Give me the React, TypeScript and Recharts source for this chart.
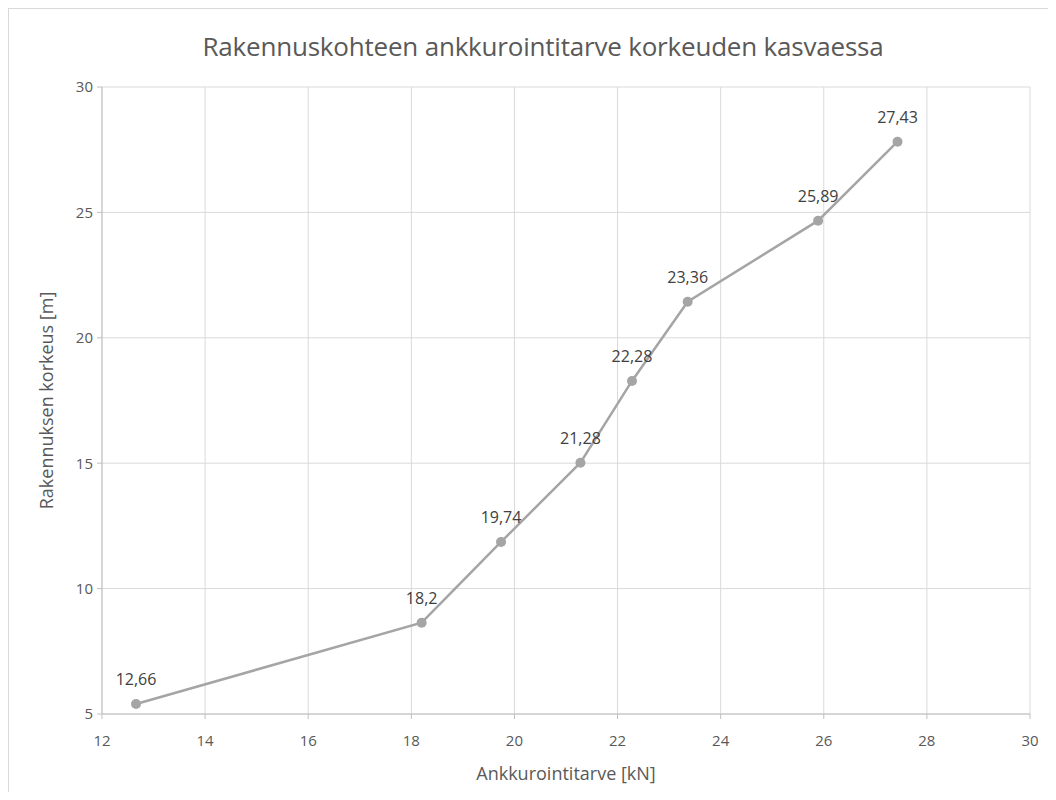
import React from "react";
import {
  ScatterChart,
  Scatter,
  XAxis,
  YAxis,
  CartesianGrid,
  LabelList,
  Label,
} from "recharts";

const anchorForce = [12.66, 18.2, 19.74, 21.28, 22.28, 23.36, 25.89, 27.43];
const buildingHeight = [5.4, 8.64, 11.86, 15.02, 18.28, 21.44, 24.67, 27.82];
const xTicks = [12, 14, 16, 18, 20, 22, 24, 26, 28, 30];
const yTicks = [5, 10, 15, 20, 25, 30];

const title = "Rakennuskohteen ankkurointitarve korkeuden kasvaessa";
const xTitle = "Ankkurointitarve [kN]";
const yTitle = "Rakennuksen korkeus [m]";

const data = anchorForce.map((x, i) => ({ x, y: buildingHeight[i] }));

const numFont = "'Open Sans', 'Noto Sans', sans-serif";
const textFont = "'Open Sans', sans-serif";

const fmt = (v: any) => String(v).replace(".", ",");

export default function App() {
  return (
    <div
      style={{
        position: "relative",
        width: 1047,
        height: 783,
        borderTop: "1px solid #d9d9d9",
        borderLeft: "1px solid #d9d9d9",
        background: "#fff",
      }}
    >
      <div
        style={{
          position: "absolute",
          left: 0,
          width: 1068,
          top: 21,
          textAlign: "center",
          fontFamily: textFont,
          fontSize: 26,
          color: "#595959",
          lineHeight: "32px",
          letterSpacing: "-0.2px",
        }}
      >
        {title}
      </div>
      <ScatterChart
        width={1047}
        height={783}
        margin={{ top: 78, right: 26, left: 33, bottom: 28 }}
      >
        <CartesianGrid stroke="#d9d9d9" strokeWidth={1} />
        <XAxis
          type="number"
          dataKey="x"
          domain={[12, 30]}
          ticks={xTicks}
          interval={0}
          height={50}
          stroke="#bfbfbf"
          tickSize={5}
          tickMargin={16}
          tick={{ fill: "#595959", fontSize: 15, fontFamily: numFont }}
        >
          <Label
            value={xTitle}
            position="insideBottom"
            offset={-16}
            style={{ fill: "#595959", fontSize: 18, fontFamily: textFont }}
          />
        </XAxis>
        <YAxis
          type="number"
          dataKey="y"
          domain={[5, 30]}
          ticks={yTicks}
          interval={0}
          width={60}
          stroke="#bfbfbf"
          tickSize={5}
          tickMargin={4}
          tick={{ fill: "#595959", fontSize: 15, fontFamily: numFont }}
        >
          <Label
            value={yTitle}
            angle={-90}
            position="insideLeft"
            offset={5}
            style={{
              fill: "#595959",
              fontSize: 18,
              fontFamily: textFont,
              textAnchor: "middle",
            }}
          />
        </YAxis>
        <Scatter
          data={data}
          fill="#a5a5a5"
          line={{ stroke: "#a5a5a5", strokeWidth: 2.5 }}
          lineType="joint"
          shape={(props: any) => (
            <circle cx={props.cx} cy={props.cy} r={5} fill="#a5a5a5" />
          )}
          isAnimationActive={false}
        >
          <LabelList
            dataKey="x"
            position="top"
            offset={14}
            formatter={fmt}
            style={{ fill: "#404040", fontSize: 16, fontFamily: numFont }}
          />
        </Scatter>
      </ScatterChart>
    </div>
  );
}
